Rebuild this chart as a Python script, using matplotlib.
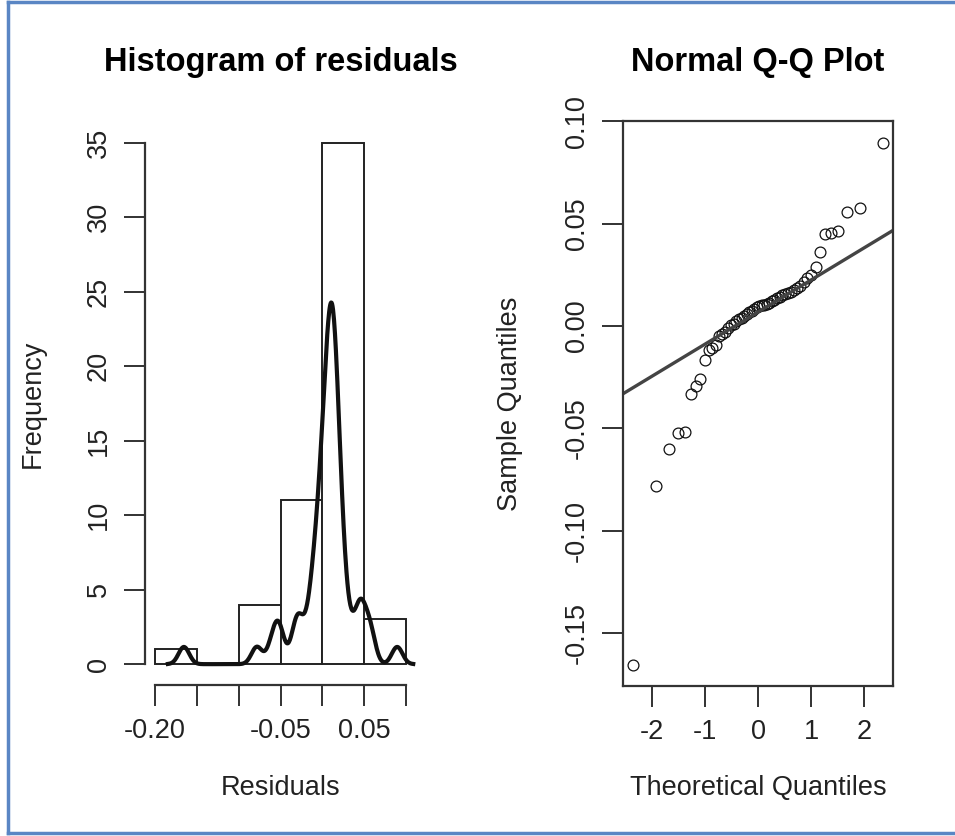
import numpy as np
import matplotlib
matplotlib.use('Agg')
import matplotlib.pyplot as plt
from matplotlib.lines import Line2D
from statistics import NormalDist

plt.rcParams['font.family'] = ['Liberation Sans', 'DejaVu Sans']

# histogram of residuals (counts)
bin_edges = [-0.20, -0.15, -0.10, -0.05, 0.00, 0.05, 0.10]
hist_counts = [1, 0, 4, 11, 35, 3]

# sorted residuals
residuals = np.array([
    -0.1655, -0.0783, -0.0600, -0.0520, -0.0515, -0.0330, -0.0295, -0.0260,
    -0.0168, -0.0116, -0.0106, -0.0090, -0.0050, -0.0040, -0.0030, -0.0010,
    0.0005, 0.0010, 0.0025, 0.0035, 0.0040, 0.0050, 0.0058, 0.0068,
    0.0075, 0.0085, 0.0092, 0.0098, 0.0102, 0.0105, 0.0110, 0.0115,
    0.0122, 0.0128, 0.0135, 0.0142, 0.0150, 0.0156, 0.0162, 0.0168,
    0.0176, 0.0185, 0.0198, 0.0215, 0.0235, 0.0250, 0.0290, 0.0360,
    0.0450, 0.0455, 0.0462, 0.0558, 0.0578, 0.0895,
])

hist_xticks = [-0.20, -0.15, -0.10, -0.05, 0.00, 0.05, 0.10]
hist_xticklabels = ['-0.20', '', '', '-0.05', '', '0.05', '']
hist_yticks = [0, 5, 10, 15, 20, 25, 30, 35]
qq_xticks = [-2, -1, 0, 1, 2]
qq_yticks = [-0.15, -0.10, -0.05, 0.00, 0.05, 0.10]
qq_yticklabels = ['-0.15', '-0.10', '-0.05', '0.00', '0.05', '0.10']

W, H = 955, 836
fs = 19.5
fig = plt.figure(figsize=(W / 100, H / 100), dpi=100)


def px_axes(left, top, right, bottom):
    return fig.add_axes([left / W, 1 - bottom / H, (right - left) / W, (bottom - top) / H])


def r_style(ax):
    ax.tick_params(length=15, width=1.3, pad=9, labelsize=fs, colors='#222222')
    for s in ax.spines.values():
        s.set_linewidth(1.6)
        s.set_color('#333333')


def pad_lim(lo, hi):
    d = 0.04 * (hi - lo)
    return lo - d, hi + d


# ---- left: histogram + density
ax1 = px_axes(145, 122, 416, 685)
widths = np.diff(bin_edges)
ax1.bar(bin_edges[:-1], hist_counts, width=widths, align='edge',
        facecolor='white', edgecolor='#222222', linewidth=1.4)

# gaussian kernel density, bandwidth like R's bw.nrd0
n = len(residuals)
iqr = np.percentile(residuals, 75) - np.percentile(residuals, 25)
bw = 0.9 * min(residuals.std(ddof=1), iqr / 1.34) * n ** -0.2
gx = np.linspace(residuals.min() - 3 * bw, residuals.max() + 3 * bw, 512)
gy = np.exp(-0.5 * ((gx[:, None] - residuals[None, :]) / bw) ** 2).sum(axis=1)
gy = gy / (n * bw * np.sqrt(2 * np.pi))
ax1.plot(gx, gy, color='#111111', linewidth=3)

ax1.set_xlim(*pad_lim(bin_edges[0], bin_edges[-1]))
ax1.set_ylim(*pad_lim(0, max(hist_counts)))
ax1.set_xticks(hist_xticks)
ax1.set_xticklabels(hist_xticklabels)
ax1.set_yticks(hist_yticks)
ax1.set_yticklabels([str(v) for v in hist_yticks], rotation=90, va='center')
r_style(ax1)
ax1.spines['top'].set_visible(False)
ax1.spines['right'].set_visible(False)
ax1.spines['bottom'].set_bounds(hist_xticks[0], hist_xticks[-1])
ax1.spines['left'].set_bounds(hist_yticks[0], hist_yticks[-1])
ax1.text(0.5, 1 + 59 / 563, 'Histogram of residuals', transform=ax1.transAxes,
         ha='center', va='center', fontsize=23.5, fontweight='bold')
ax1.text(0.5, -103 / 563, 'Residuals', transform=ax1.transAxes,
         ha='center', va='center', fontsize=fs, color='#222222')
ax1.text(-112 / 271, 0.5, 'Frequency', transform=ax1.transAxes, rotation=90,
         ha='center', va='center', fontsize=fs, color='#222222')

# ---- right: normal Q-Q plot
ax2 = px_axes(623, 121, 893, 686)
nd = NormalDist()
probs = (np.arange(1, n + 1) - 0.5) / n
theo = np.array([nd.inv_cdf(p) for p in probs])
ax2.plot(theo, residuals, linestyle='none', marker='o', markersize=7.8,
         markerfacecolor='none', markeredgecolor='#111111', markeredgewidth=0.9)

q1, q3 = np.percentile(residuals, [25, 75])
z1, z3 = nd.inv_cdf(0.25), nd.inv_cdf(0.75)
slope = (q3 - q1) / (z3 - z1)
icpt = q1 - slope * z1
xl = pad_lim(theo.min(), theo.max())
ax2.plot(xl, [icpt + slope * xl[0], icpt + slope * xl[1]], color='#444444', linewidth=2.4)

ax2.set_xlim(*xl)
ylo, yhi = pad_lim(residuals.min(), residuals.max())
ax2.set_ylim(ylo, max(yhi, qq_yticks[-1] + 1e-4))
ax2.set_xticks(qq_xticks)
ax2.set_xticklabels([str(v) for v in qq_xticks])
ax2.set_yticks(qq_yticks)
ax2.set_yticklabels(qq_yticklabels, rotation=90, va='center')
r_style(ax2)
ax2.text(0.5, 1 + 58 / 565, 'Normal Q-Q Plot', transform=ax2.transAxes,
         ha='center', va='center', fontsize=23.5, fontweight='bold')
ax2.text(0.5, -102 / 565, 'Theoretical Quantiles', transform=ax2.transAxes,
         ha='center', va='center', fontsize=fs, color='#222222')
ax2.text(-113 / 270, 0.5, 'Sample Quantiles', transform=ax2.transAxes, rotation=90,
         ha='center', va='center', fontsize=fs, color='#222222')

# blue frame (left, top, bottom) around the picture
frame = dict(transform=fig.transFigure, color='#5a86c4', linewidth=2.5)
fig.lines.append(Line2D([8 / W, 8 / W], [3 / H, 834 / H], **frame))
fig.lines.append(Line2D([8 / W, 1], [834 / H, 834 / H], **frame))
fig.lines.append(Line2D([8 / W, 1], [3 / H, 3 / H], **frame))

fig.savefig('out.png', dpi=100)
